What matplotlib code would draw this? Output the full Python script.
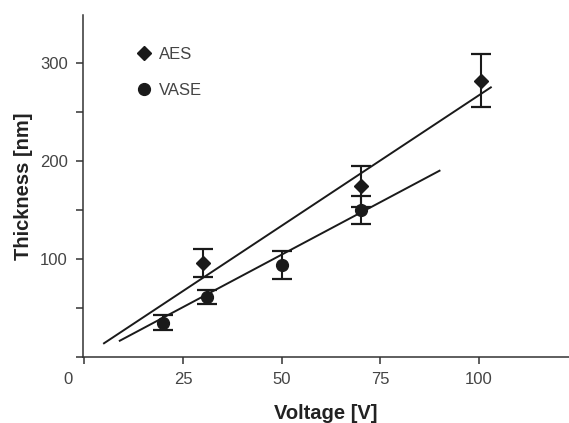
import numpy as np
import matplotlib.pyplot as plt
from matplotlib.transforms import ScaledTranslation

plt.rcParams['font.family'] = ['Liberation Sans', 'DejaVu Sans']

# AES points
aes_v = [30, 70, 100.5]
aes_t = [96, 174, 282]
aes_err = [14, 21, 27]

# VASE points
vase_v = [20, 31, 50, 70]
vase_t = [35, 61, 94, 150]
vase_err = [7.5, 7, 14, 14]

# linear fit lines (end points)
fit_aes_v = [5, 103]
fit_aes_t = [14, 275]
fit_vase_v = [9, 90]
fit_vase_t = [16.6, 190]

ink = '#1a1a1a'
axc = '#333333'
txt = '#444444'

fig = plt.figure(figsize=(5.69, 4.23), dpi=100)
ax = fig.add_axes([0.146, 0.156, 0.854, 0.809])

ax.plot(fit_aes_v, fit_aes_t, color=ink, lw=1.4)
ax.plot(fit_vase_v, fit_vase_t, color=ink, lw=1.4)

ax.errorbar(aes_v, aes_t, yerr=aes_err, fmt='none', ecolor=ink, elinewidth=1.5,
            capsize=7, capthick=1.6)
ax.errorbar(vase_v, vase_t, yerr=vase_err, fmt='none', ecolor=ink, elinewidth=1.5,
            capsize=7, capthick=1.6)
ax.plot(aes_v, aes_t, 'D', color=ink, ms=7, ls='none', label='AES')
ax.plot(vase_v, vase_t, 'o', color=ink, ms=8.5, ls='none', label='VASE')

ax.set_xlim(-0.3, 122.8)
ax.set_ylim(0, 349)

ax.set_xticks([0, 25, 50, 75, 100])
ax.set_xticklabels(['0', '25', '50', '75', '100'])
ax.set_yticks([0, 100, 200, 300])
ax.set_yticklabels(['', '100', '200', '300'])
ax.set_yticks([50, 150, 250], minor=True)

for s in ['top', 'right']:
    ax.spines[s].set_visible(False)
for s in ['left', 'bottom']:
    ax.spines[s].set_color(axc)
    ax.spines[s].set_linewidth(1.1)

ax.tick_params(which='both', direction='out', length=5, width=1.1, color=axc,
               labelsize=12, labelcolor=txt, pad=6)

# the "0" sits left of the origin
lbl0 = ax.get_xticklabels()[0]
lbl0.set_transform(lbl0.get_transform() + ScaledTranslation(-16 / 100, 0, fig.dpi_scale_trans))

ax.set_xlabel('Voltage [V]', fontsize=14.5, fontweight='bold', color='#222222', labelpad=12)
ax.set_ylabel('Thickness [nm]', fontsize=14.5, fontweight='bold', color='#222222', labelpad=5)

ax.legend(loc='upper left', bbox_to_anchor=(0.08, 0.95), frameon=False, fontsize=12,
          handlelength=0.8, handletextpad=0.5, labelspacing=1.25, labelcolor=txt)

fig.savefig('out.png', dpi=100)
